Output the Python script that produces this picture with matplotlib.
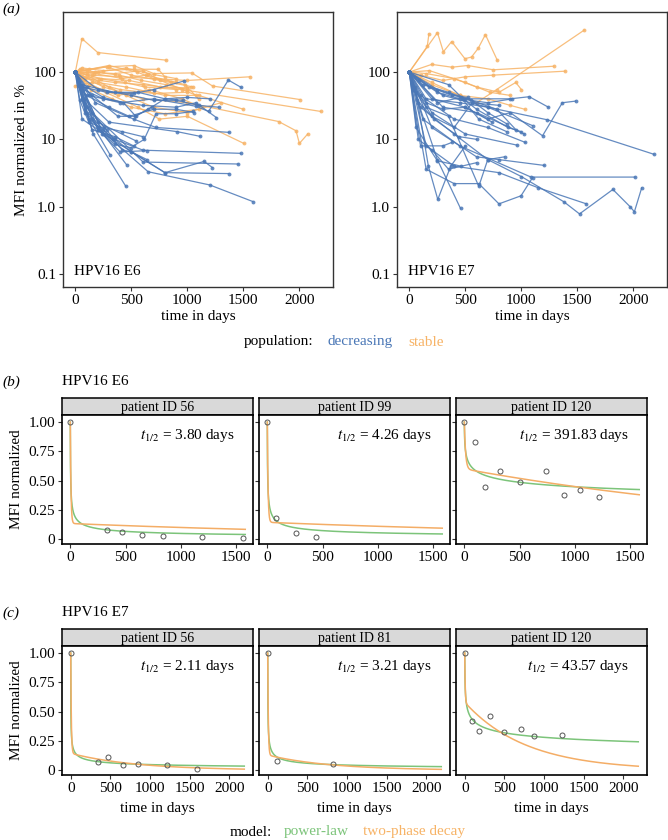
import numpy as np
import matplotlib
matplotlib.use("Agg")
import matplotlib.pyplot as plt

plt.rcParams['font.family'] = ['Liberation Serif', 'DejaVu Serif']
plt.rcParams['mathtext.fontset'] = 'stix'

# ---------------- data: panel (a) ----------------
# each trajectory: list of (day, MFI % normalized)
e6_stable = [
    [(0,100),(59,314),(200,195),(811,150)],
    [(0,100),(120,110),(300,120),(520,125),(700,95),(1040,97),(1225,62),(2006,39)],
    [(0,100),(90,80),(350,70),(600,65),(950,55),(2190,26)],
    [(0,100),(150,90),(400,85),(1000,75),(1560,85)],
    [(0,100),(200,70),(450,60),(800,45),(1100,45),(1500,28)],
    [(0,100),(100,90),(300,60),(450,45),(700,30),(1000,25),(1300,35)],
    [(0,100),(80,75),(270,50),(560,30),(750,20),(1000,22),(1504,8.7)],
    [(0,100),(250,60),(600,40),(1000,35),(1815,18.4),(1970,13.4),(2000,8.7),(2074,12)],
    [(0,100),(60,115),(250,105),(520,110),(740,110),(800,85)],
    [(0,100),(300,125),(550,100),(700,80),(900,70)],
    [(0,100),(170,95),(420,80),(630,90),(980,65),(1100,40)],
    [(0,100),(230,80),(480,75),(760,60),(1000,58)],
    [(0,100),(40,110),(180,100),(390,90),(590,75),(810,65),(1000,55)],
    [(0,100),(120,65),(380,45),(660,55),(950,40),(1130,30)],
    [(0,100),(140,55),(330,40),(500,30),(800,24),(1100,28)],
    [(0,100),(280,120),(500,90),(850,70),(1050,60)],
    [(0,100),(60,85),(210,80),(440,70),(620,60),(900,55),(1030,60)],
    [(0,100),(100,100),(350,95),(600,105),(760,75),(1080,45)],
    [(0,100),(200,100),(450,115),(650,95),(900,80)],
    [(0,62),(150,70),(400,55),(700,48),(1000,50)],
]
e6_decreasing = [
    [(0,100),(60,40),(160,12),(451,2.0)],
    [(0,100),(200,15),(650,3.3),(1200,2.1),(1585,1.19)],
    [(0,100),(120,20),(500,6.5),(800,3.2),(1372,3.1)],
    [(0,100),(250,12),(800,3.2),(1150,4.7),(1224,3.8)],
    [(0,100),(150,25),(605,4.6),(1455,4.3)],
    [(0,100),(100,30),(350,10),(605,6.9),(1475,6.2)],
    [(0,100),(180,35),(520,20),(720,15),(1372,12.7)],
    [(0,100),(80,40),(300,18),(910,13),(1112,11.1)],
    [(0,100),(150,20),(457,4.2)],
    [(0,100),(90,25),(310,5.9)],
    [(0,100),(200,18),(546,9.4)],
    [(0,100),(60,60),(280,50),(520,48),(700,55),(974,74)],
    [(0,100),(120,45),(400,35),(700,40),(1077,31),(1189,26),(1366,76),(1481,59)],
    [(0,100),(70,55),(250,40),(600,32),(900,30),(1077,35),(1260,21)],
    [(0,100),(150,14),(350,11),(520,8),(615,10),(720,24),(900,24),(1050,26)],
    [(0,100),(30,62),(100,45),(300,30),(480,22),(700,28),(900,28),(1060,25)],
    [(0,100),(50,50),(200,14),(350,8.5),(500,7.5)],
    [(0,100),(80,35),(260,15),(420,13),(600,11)],
    [(0,100),(100,25),(240,12),(400,6.5),(640,6.8)],
    [(0,100),(30,70),(150,45),(380,22),(530,22),(650,28),(800,40),(1000,42),(1200,40)],
    [(0,100),(200,55),(500,45),(700,38),(900,38),(1100,32),(1280,30)],
    [(0,100),(60,20),(200,14),(340,10)],
    [(0,100),(100,60),(250,42),(430,35),(540,22),(680,30)],
    [(0,100),(40,38),(120,18),(280,14)],
    [(0,100),(50,65),(350,50),(560,50),(800,40),(960,38)],
    [(0,100),(90,27),(250,14),(420,7),(500,6.5),(640,5.0)],
]
e7_stable = [
    [(0,100),(160,240),(175,370)],
    [(0,100),(251,385),(304,200),(378,284),(496,158),(555,167),(614,224),(679,360),(785,150)],
    [(0,100),(200,70),(450,45),(600,35),(780,55),(1563,422)],
    [(0,100),(200,130),(380,118),(520,125),(750,108),(1290,122)],
    [(0,100),(100,90),(300,75),(500,85),(750,90),(1390,103)],
    [(0,100),(150,95),(400,80),(600,60),(800,50),(950,70),(1000,55)],
    [(0,100),(200,65),(450,45),(700,40),(900,32),(1030,28)],
    [(0,100),(180,105),(500,70),(720,50),(900,45)],
]
e7_decreasing = [
    [(0,100),(300,45),(700,30),(1233,19.5),(2183,6.0)],
    [(0,100),(100,30),(400,12),(700,5),(1000,2.8),(1380,1.18),(1519,0.78),(1817,1.8),(1970,1.0),(2009,0.84),(2074,1.9)],
    [(0,100),(150,8),(400,4),(800,3.2),(1153,1.9),(1581,1.1)],
    [(0,100),(120,20),(450,8),(1086,2.75),(2015,2.75)],
    [(0,100),(200,15),(600,5.5),(800,5.0),(1204,4.1)],
    [(0,100),(80,35),(250,5),(457,0.94)],
    [(0,100),(60,50),(170,4),(254,1.28),(370,4),(500,8)],
    [(0,100),(150,3.6),(400,2.2),(620,2.2),(800,1.1),(997,1.45),(1100,2.7)],
    [(0,100),(200,40),(500,30),(700,20),(900,25),(1189,11.3),(1366,35),(1484,37)],
    [(0,100),(150,40),(450,35),(700,30),(1100,16)],
    [(0,100),(300,30),(600,25),(1027,12)],
    [(0,100),(100,45),(400,20),(700,15),(1035,9.0)],
    [(0,100),(200,25),(500,12),(962,8.2)],
    [(0,100),(250,55),(500,40),(900,40),(1071,43),(1242,30)],
    [(0,100),(100,8),(300,8),(380,9)],
    [(0,100),(50,60),(200,22),(400,15),(560,35),(800,32)],
    [(0,100),(60,15),(250,4.8),(460,4.0)],
    [(0,100),(350,65),(480,40),(600,28),(880,15),(1000,13)],
    [(0,100),(40,55),(150,30),(350,22),(620,2.0),(700,5.0),(850,5.5)],
    [(0,100),(90,75),(250,50),(450,40),(700,35),(920,40)],
    [(0,100),(180,60),(380,45),(520,42),(700,25),(870,17)],
    [(0,100),(30,55),(150,35),(300,28),(500,30),(740,18)],
    [(0,100),(80,10),(200,7),(350,3.6),(600,4.5)],
    [(0,100),(70,38),(220,20),(440,11),(600,10)],
    [(0,100),(120,65),(350,50),(550,38),(780,28),(950,14)],
    [(0,100),(250,35),(460,42),(620,20),(870,13)],
]
a_yticks = [0.1, 1, 10, 100]
a_yticklabels = ['0.1', '1.0', '10', '100']
a_xticks = [0, 500, 1000, 1500, 2000]

# ---------------- data: panel (b) HPV16 E6 ----------------
b_patients = ['patient ID 56', 'patient ID 99', 'patient ID 120']
b_days = [[0, 335, 465, 646, 834, 1190, 1562],
          [0, 78, 262, 442],
          [0, 100, 188, 319, 502, 740, 900, 1047, 1212]]
b_vals = [[1.0, 0.078, 0.064, 0.033, 0.031, 0.022, 0.011],
          [1.0, 0.181, 0.056, 0.019],
          [1.0, 0.827, 0.446, 0.582, 0.487, 0.582, 0.382, 0.418, 0.359]]
b_thalf = [3.80, 4.26, 391.83]
b_pl_k = [0.43, 0.42, 0.118]
b_tp_plateau = [0.135, 0.145, 0.60]
b_tp_fast = [4.0, 4.5, 8.0]
b_tp_slow = [2367, 2590, 2397]
b_tmax = 1580
b_xticks = [0, 500, 1000, 1500]

# ---------------- data: panel (c) HPV16 E7 ----------------
c_patients = ['patient ID 56', 'patient ID 81', 'patient ID 120']
c_days = [[0, 345, 472, 658, 847, 1211, 1589],
          [0, 115, 820],
          [0, 90, 177, 320, 500, 705, 870, 1230]]
c_vals = [[1.0, 0.073, 0.115, 0.048, 0.053, 0.042, 0.008],
          [1.0, 0.076, 0.05],
          [1.0, 0.42, 0.333, 0.463, 0.33, 0.35, 0.29, 0.30]]
c_thalf = [2.11, 3.21, 43.57]
c_pl_k = [0.39, 0.44, 0.185]
c_tp_plateau = [0.145, 0.13, 0.58]
c_tp_fast = [5.0, 5.0, 4.0]
c_tp_slow = [568, 547, 540]
c_tmax = 2190
c_xticks = [0, 500, 1000, 1500, 2000]

mfi_yticks = [0, 0.25, 0.5, 0.75, 1.0]
mfi_yticklabels = ['0', '0.25', '0.50', '0.75', '1.00']

BLUE = '#4a77b6'
ORANGE = '#f7b366'
GREEN = '#7cc47a'
ORANGE2 = '#f4ad66'
FS = 11

W, H = 668, 840
fig = plt.figure(figsize=(W/100, H/100), dpi=100)

def px_axes(x0, y0, x1, y1):
    return fig.add_axes([x0/W, 1 - y1/H, (x1-x0)/W, (y1-y0)/H])

# ---------------- panel (a) ----------------
def draw_a(ax, stable, decreasing, label, ylabel):
    for tr in stable:
        d, v = zip(*tr)
        ax.plot(d, v, '-o', color=ORANGE, lw=0.9, ms=2.8, mec='none', alpha=0.85)
    for tr in decreasing:
        d, v = zip(*tr)
        ax.plot(d, v, '-o', color=BLUE, lw=0.9, ms=2.8, mec='none', alpha=0.85)
    ax.set_yscale('log')
    ax.set_ylim(0.064, 780)
    ax.set_xlim(-110, 2300)
    ax.set_yticks(a_yticks)
    ax.set_yticklabels(a_yticklabels)
    ax.minorticks_off()
    ax.set_xticks(a_xticks)
    ax.tick_params(labelsize=FS, length=3, width=0.8, color='#333333', pad=2)
    for s in ax.spines.values():
        s.set_color('#333333'); s.set_linewidth(1.0)
    ax.text(0.04, 0.058, label, transform=ax.transAxes, fontsize=FS, va='center')
    ax.set_xlabel('time in days', fontsize=FS, labelpad=2)
    if ylabel:
        ax.set_ylabel('MFI normalized in %', fontsize=FS, labelpad=4)

axA1 = px_axes(63, 12, 333, 287)
draw_a(axA1, e6_stable, e6_decreasing, 'HPV16 E6', True)
axA2 = px_axes(397, 12, 667, 287)
draw_a(axA2, e7_stable, e7_decreasing, 'HPV16 E7', False)

fig.text(2/W, 1 - 9/H, '(a)', fontsize=FS, style='italic', va='center')
fig.text(313/W, 1 - 342/H, 'population:', fontsize=FS, ha='right', va='center')
fig.text(328/W, 1 - 342/H, 'decreasing', fontsize=FS, color=BLUE, ha='left', va='center')
fig.text(408/W, 1 - 342/H, 'stable', fontsize=FS, color=ORANGE, ha='left', va='center')

# ---------------- panels (b),(c) ----------------
def power_law(t, thalf, k):
    t0 = thalf / (2**(1/k) - 1)
    return (1 + t/t0)**(-k)

def two_phase(t, p, tf, ts):
    return (1-p)*np.exp(-np.log(2)*t/tf) + p*np.exp(-np.log(2)*t/ts)

def draw_row(top, patients, days, vals, thalf, pl_k, tp_p, tp_f, tp_s, tmax, xticks, xlim, xlabel):
    lefts = [62, 259, 456]
    width = 191
    strip_h = 17
    for i in range(3):
        x0 = lefts[i]
        sax = px_axes(x0, top, x0 + width, top + strip_h)
        sax.set_facecolor('#d9d9d9')
        sax.set_xticks([]); sax.set_yticks([])
        for s in sax.spines.values():
            s.set_color('black'); s.set_linewidth(1.1)
        sax.text(0.5, 0.45, patients[i], transform=sax.transAxes, ha='center', va='center', fontsize=10)
        ax = px_axes(x0, top + strip_h, x0 + width, top + strip_h + 129)
        t = np.concatenate([[0], np.geomspace(0.05, tmax, 600)])
        ax.plot(t, power_law(t, thalf[i], pl_k[i]), color=GREEN, lw=1.1)
        ax.plot(t, two_phase(t, tp_p[i], tp_f[i], tp_s[i]), color=ORANGE2, lw=1.1)
        ax.plot(days[i], vals[i], 'o', ms=3.6, mfc='none', mec='#555555', mew=0.7)
        ax.set_xlim(*xlim)
        ax.set_ylim(-0.04, 1.06)
        ax.set_xticks(xticks)
        ax.set_yticks(mfi_yticks)
        if i == 0:
            ax.set_yticklabels(mfi_yticklabels)
            ax.set_ylabel('MFI normalized', fontsize=FS, labelpad=4)
        else:
            ax.set_yticklabels([])
            ax.tick_params(axis='y', length=0)
        ax.tick_params(labelsize=FS, length=3, width=0.8, color='#333333', pad=2)
        for s in ax.spines.values():
            s.set_color('black'); s.set_linewidth(1.2)
        ax.text(0.905, 0.84, r'$t_{1/2}$' + ' = %.2f days' % thalf[i], transform=ax.transAxes,
                ha='right', va='center', fontsize=FS)
        if xlabel:
            ax.set_xlabel('time in days', fontsize=FS, labelpad=5)

draw_row(398, b_patients, b_days, b_vals, b_thalf, b_pl_k, b_tp_plateau, b_tp_fast, b_tp_slow,
         b_tmax, b_xticks, (-75, 1650), False)
draw_row(629, c_patients, c_days, c_vals, c_thalf, c_pl_k, c_tp_plateau, c_tp_fast, c_tp_slow,
         c_tmax, c_xticks, (-110, 2300), True)

fig.text(2/W, 1 - 382/H, '(b)', fontsize=FS, style='italic', va='center')
fig.text(62/W, 1 - 382/H, 'HPV16 E6', fontsize=FS, va='center')
fig.text(2/W, 1 - 613/H, '(c)', fontsize=FS, style='italic', va='center')
fig.text(62/W, 1 - 613/H, 'HPV16 E7', fontsize=FS, va='center')

fig.text(272/W, 1 - 832/H, 'model:', fontsize=FS, ha='right', va='center')
fig.text(284/W, 1 - 832/H, 'power-law', fontsize=FS, color=GREEN, ha='left', va='center')
fig.text(363/W, 1 - 832/H, 'two-phase decay', fontsize=FS, color=ORANGE, ha='left', va='center')

fig.savefig('out.png', dpi=100)
